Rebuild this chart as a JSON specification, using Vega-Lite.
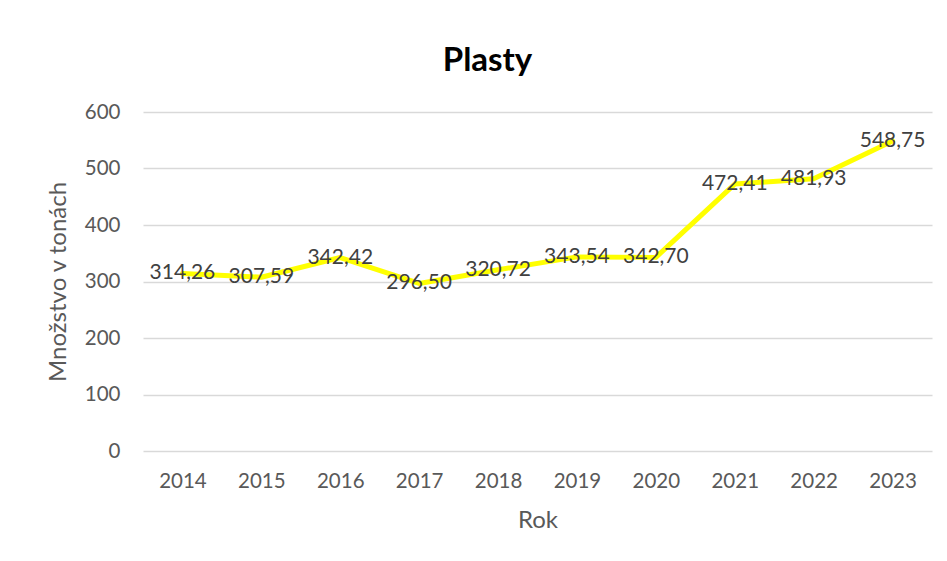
{
  "$schema": "https://vega.github.io/schema/vega-lite/v6.json",
  "autosize": "none",
  "width": 789,
  "height": 339,
  "padding": {"left": 143, "top": 112, "right": 15, "bottom": 110},
  "background": "white",
  "config": {
    "font": "Lato",
    "view": {"stroke": null},
    "locale": {"number": {"decimal": ",", "thousands": "", "grouping": [3], "currency": ["", ""]}}
  },
  "title": {
    "text": "Plasty",
    "font": "Lato",
    "fontSize": 33,
    "fontWeight": "bold",
    "color": "#000000",
    "anchor": "middle",
    "dx": -50,
    "offset": 24
  },
  "data": {
    "values": [
      {"rok": "2014", "mnozstvo": 314.26},
      {"rok": "2015", "mnozstvo": 307.59},
      {"rok": "2016", "mnozstvo": 342.42},
      {"rok": "2017", "mnozstvo": 296.50},
      {"rok": "2018", "mnozstvo": 320.72},
      {"rok": "2019", "mnozstvo": 343.54},
      {"rok": "2020", "mnozstvo": 342.70},
      {"rok": "2021", "mnozstvo": 472.41},
      {"rok": "2022", "mnozstvo": 481.93},
      {"rok": "2023", "mnozstvo": 548.75}
    ]
  },
  "encoding": {
    "x": {
      "field": "rok",
      "type": "ordinal",
      "scale": {"type": "point", "padding": 0.5},
      "axis": {
        "title": "Rok",
        "titleFont": "Lato",
        "titleFontSize": 24,
        "titleFontWeight": "normal",
        "titleColor": "#595959",
        "titlePadding": 17,
        "labelAngle": 0,
        "labelFont": "Lato",
        "labelFontSize": 20.5,
        "labelColor": "#595959",
        "labelPadding": 20,
        "ticks": false,
        "domain": false,
        "grid": false
      }
    },
    "y": {
      "field": "mnozstvo",
      "type": "quantitative",
      "scale": {"domain": [0, 600], "nice": false},
      "axis": {
        "title": "Množstvo v tonách",
        "titleFont": "Lato",
        "titleFontSize": 24,
        "titleFontWeight": "normal",
        "titleColor": "#595959",
        "titlePadding": 14,
        "values": [0, 100, 200, 300, 400, 500, 600],
        "format": "d",
        "labelFont": "Lato",
        "labelFontSize": 20.5,
        "labelColor": "#595959",
        "labelPadding": 23,
        "ticks": false,
        "domain": false,
        "grid": true,
        "gridColor": "#d9d9d9",
        "gridWidth": 1.5
      }
    }
  },
  "layer": [
    {
      "mark": {"type": "line", "color": "#FFFF00", "strokeWidth": 5, "strokeJoin": "round", "strokeCap": "round"}
    },
    {
      "mark": {"type": "text", "font": "Lato", "fontSize": 21, "color": "#404040", "align": "center", "baseline": "middle"},
      "encoding": {
        "text": {"field": "mnozstvo", "type": "quantitative", "format": ".2f"}
      }
    }
  ]
}
